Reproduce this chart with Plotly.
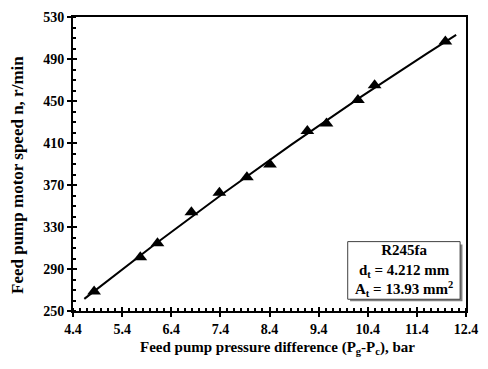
import numpy as np
import plotly.graph_objects as go

# Data
pressure_diff = [4.83, 5.77, 6.12, 6.81, 7.38, 7.94, 8.41, 9.17, 9.56, 10.20, 10.54, 11.98]
motor_speed = [268.6, 301.2, 314.5, 344.0, 362.6, 377.4, 389.5, 421.4, 428.6, 450.9, 464.9, 506.7]
trend_x_range = [4.63, 12.20]

x_ticks = [4.4, 5.4, 6.4, 7.4, 8.4, 9.4, 10.4, 11.4, 12.4]
y_ticks = [250, 290, 330, 370, 410, 450, 490, 530]

legend_lines = ["R245fa", "d<sub>t</sub> = 4.212 mm", "A<sub>t</sub> = 13.93 mm<sup>2</sup>"]

FONT = "Liberation Serif"

# Polynomial (2nd order) trendline fitted to the data, like the original
coef = np.polyfit(pressure_diff, motor_speed, 2)
tx = np.linspace(trend_x_range[0], trend_x_range[1], 80)
ty = np.polyval(coef, tx)

fig = go.Figure()
fig.add_trace(go.Scatter(x=tx, y=ty, mode="lines",
                         line=dict(color="black", width=2), showlegend=False,
                         hoverinfo="skip"))
fig.add_trace(go.Scatter(x=pressure_diff, y=motor_speed, mode="markers",
                         marker=dict(symbol="triangle-up", size=12, color="black"),
                         showlegend=False))

def bold(size):
    return dict(family=FONT, size=size, color="black", weight="bold")

axis_common = dict(showgrid=False, zeroline=False, linecolor="black", linewidth=2,
                   tickfont=bold(14),
                   ticklen=4, tickwidth=2, tickcolor="black")

fig.update_layout(
    width=488, height=369,
    margin=dict(l=73, r=19, t=10, b=58),
    paper_bgcolor="white", plot_bgcolor="white",
    font=dict(family=FONT, color="black"),
    xaxis=dict(range=[4.4, 12.4], tickvals=x_ticks,
               ticktext=[f"{v:.1f}" for v in x_ticks],
               ticks="outside", mirror=True,
               minor=dict(tick0=4.4, dtick=1/7, ticks="inside", ticklen=3,
                          tickwidth=1.5, tickcolor="black"),
               **axis_common),
    yaxis=dict(range=[250, 530], tickvals=y_ticks,
               ticks="outside", mirror=True,
               minor=dict(tick0=250, dtick=10, ticks="inside", ticklen=3,
                          tickwidth=1.5, tickcolor="black"),
               **axis_common),
    xaxis2=dict(range=[4.4, 12.4], tickvals=x_ticks, overlaying="x",
                showticklabels=False, ticks="inside", ticklen=4, tickwidth=2,
                tickcolor="black", showgrid=False, zeroline=False, showline=False,
                anchor="y"),
    yaxis2=dict(range=[250, 530], tickvals=y_ticks, overlaying="y",
                showticklabels=False, ticks="inside", ticklen=4, tickwidth=2,
                tickcolor="black", showgrid=False, zeroline=False, showline=False,
                anchor="x", side="left"),
)

# dummy invisible trace to activate overlay axes
fig.add_trace(go.Scatter(x=[pressure_diff[0]], y=[motor_speed[0]], xaxis="x2", yaxis="y2",
                         mode="markers", marker=dict(opacity=0), showlegend=False,
                         hoverinfo="skip"))

# Axis titles
fig.add_annotation(text="Feed pump pressure difference (P<sub>g</sub>-P<sub>c</sub>), bar",
                   xref="paper", yref="paper", x=0.52, y=-0.125, xanchor="center",
                   yanchor="middle", showarrow=False, font=bold(15))
fig.add_annotation(text="Feed pump motor speed n, r/min", textangle=-90,
                   xref="paper", yref="paper", x=-0.143, y=0.462, xanchor="center",
                   yanchor="middle", showarrow=False, font=bold(17))

# Info box with shadow
fig.add_shape(type="rect", xref="paper", yref="paper", x0=0.705, x1=0.991, y0=0.033, y1=0.226,
              fillcolor="#808080", line=dict(width=0), layer="above")
fig.add_shape(type="rect", xref="paper", yref="paper", x0=0.699, x1=0.985, y0=0.040, y1=0.236,
              fillcolor="white", line=dict(color="#404040", width=1), layer="above")
fig.add_annotation(text="<br>".join(legend_lines), xref="paper", yref="paper",
                   x=0.842, y=0.138, xanchor="center", yanchor="middle",
                   align="center", showarrow=False, font=bold(15))

fig.write_html("out.html")
